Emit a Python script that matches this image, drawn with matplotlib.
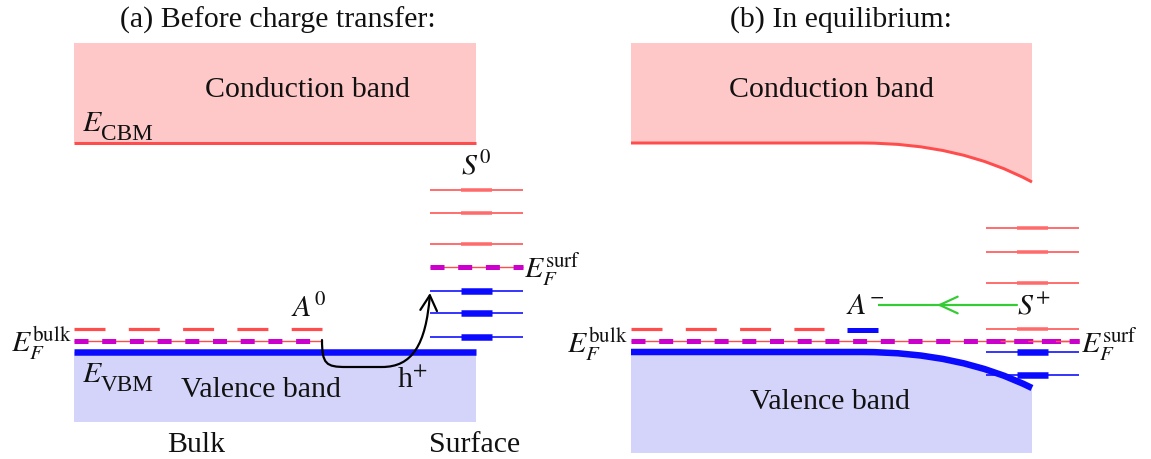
import numpy as np
import matplotlib.pyplot as plt
from matplotlib.patches import Rectangle, PathPatch, FancyArrowPatch
from matplotlib.path import Path

plt.rcParams['font.family'] = ['Liberation Serif', 'DejaVu Serif']
plt.rcParams['mathtext.fontset'] = 'stix'
plt.rcParams['lines.scale_dashes'] = False

PX = 0.72   # points per pixel at dpi 100
FS = 21.5

red = '#ff4d4d'
red_lt = '#ff6a6a'
pink = '#ffc8c8'
blue = '#0a0aff'
lav = '#d4d4fa'
mag = '#cc00cc'
green = '#33cc33'
ink = '#111111'

# energy levels, as pixel rows measured from the top of the picture
cbm = 143
vbm = 352
ef_bulk = 341
acc_a = 329            # A0 level / dashed bulk acceptor level
acc_b = 330            # A- level
surf_empty_a = [190, 213, 244]
ef_surf_a = 267
surf_full_a = [291, 313, 337]
surf_empty_b = [228, 252, 283, 329]
ef_surf_b = 341
surf_full_b = [352, 375]
cbm_surf_b = 182       # band edges at the surface after bending
vbm_surf_b = 388
transfer_y = 305       # S+ -> A- electron transfer arrow

# layout of the two panels (pixels)
top = 43
A = dict(x0=74, x1=476, bulk_end=322, s0=430, s1=523, t0=461, t1=492, bot=422)
B = dict(x0=631, x1=1032, bend=862, ctrl=960, bulk_end=824, s0=986, s1=1079,
         t0=1017, t1=1048, bot=453)

fig = plt.figure(figsize=(11.51, 4.59), dpi=100)
ax = fig.add_axes([0, 0, 1, 1])
ax.set_xlim(0, 1151)
ax.set_ylim(459, 0)
ax.axis('off')


def hl(y, x0, x1, **kw):
    ax.plot([x0, x1], [y, y], solid_capstyle='butt', dash_capstyle='butt', **kw)


def fermi(y, x0, x1):
    hl(y, x0, x1, color=red, lw=1.4 * PX)
    hl(y, x0, x1, color=mag, lw=5 * PX, linestyle=(0, (14 * PX, 13.7 * PX)))


def surface_levels(p, empty, full, ef):
    for y in empty:
        hl(y, p['s0'], p['s1'], color=red, lw=1.6 * PX)
        hl(y, p['t0'], p['t1'], color=red_lt, lw=3.5 * PX)
    for y in full:
        hl(y, p['s0'], p['s1'], color=blue, lw=1.6 * PX)
        hl(y, p['t0'], p['t1'], color=blue, lw=6.5 * PX)
    fermi(ef, p['s0'], p['s1'])


def band_edge_label(x, y, sub):
    # E with a larger-than-mathtext upright subscript, as in the original
    ax.text(x, y, r'$E$', fontsize=FS, ha='left', va='baseline', color=ink)
    ax.text(x + 19, y + 9, sub, fontsize=FS * 0.78, ha='left', va='baseline', color=ink)


# ---------------- (a) before charge transfer ----------------
ax.add_patch(Rectangle((A['x0'], top), A['x1'] - A['x0'], cbm - top, color=pink, lw=0))
ax.add_patch(Rectangle((A['x0'], vbm), A['x1'] - A['x0'], A['bot'] - vbm, color=lav, lw=0))
hl(cbm, A['x0'], A['x1'], color=red, lw=3 * PX)
hl(vbm, A['x0'], A['x1'], color=blue, lw=6.5 * PX)

hl(acc_a, A['x0'], A['bulk_end'], color=red, lw=3.2 * PX, linestyle=(0, (31 * PX, 23.3 * PX)))
fermi(ef_bulk, A['x0'], A['bulk_end'])
surface_levels(A, surf_empty_a, surf_full_a, ef_surf_a)

# hole path from A0 to the surface
hp = Path([(322, 340), (322, 364), (326, 367), (346, 367), (382, 367),
           (412, 367), (426, 345), (430, 293)],
          [Path.MOVETO, Path.CURVE4, Path.CURVE4, Path.CURVE4, Path.LINETO,
           Path.CURVE4, Path.CURVE4, Path.CURVE4])
ax.add_patch(FancyArrowPatch(path=hp, arrowstyle='->,head_length=0.55,head_width=0.3',
                             mutation_scale=20, lw=2.2 * PX, color='black', zorder=5))

ax.text(278, 20, '(a) Before charge transfer:', fontsize=FS, ha='center', va='center', color=ink)
ax.text(307, 90, 'Conduction band', fontsize=FS, ha='center', va='center', color=ink)
ax.text(261, 390, 'Valence band', fontsize=FS, ha='center', va='center', color=ink)
ax.text(196, 445, 'Bulk', fontsize=FS, ha='center', va='center', color=ink)
ax.text(475, 445, 'Surface', fontsize=FS, ha='center', va='center', color=ink)
band_edge_label(82, 131, 'CBM')
band_edge_label(82, 382, 'VBM')
ax.text(72, 343, r'$E_F^{\rm bulk}$', fontsize=FS, ha='right', va='center', color=ink)
ax.text(524, 269, r'$E_F^{\rm surf}$', fontsize=FS, ha='left', va='center', color=ink)
ax.text(291, 309, r'$A^0$', fontsize=FS, ha='left', va='center', color=ink)
ax.text(461, 166, r'$S^0$', fontsize=FS, ha='left', va='center', color=ink)
ax.text(397, 381, r'h$^{+}$', fontsize=FS, ha='left', va='center', color=ink)

# ---------------- (b) in equilibrium ----------------
cb_fill = Path([(B['x0'], top), (B['x1'], top), (B['x1'], cbm_surf_b),
                (B['ctrl'], cbm), (B['bend'], cbm), (B['x0'], cbm), (B['x0'], top)],
               [Path.MOVETO, Path.LINETO, Path.LINETO, Path.CURVE3, Path.CURVE3,
                Path.LINETO, Path.CLOSEPOLY])
ax.add_patch(PathPatch(cb_fill, color=pink, lw=0))
cb_edge = Path([(B['x0'], cbm), (B['bend'], cbm), (B['ctrl'], cbm), (B['x1'], cbm_surf_b)],
               [Path.MOVETO, Path.LINETO, Path.CURVE3, Path.CURVE3])
ax.add_patch(PathPatch(cb_edge, fill=False, edgecolor=red, lw=3 * PX, capstyle='butt'))

vb_fill = Path([(B['x0'], vbm), (B['bend'], vbm), (B['ctrl'], vbm), (B['x1'], vbm_surf_b),
                (B['x1'], B['bot']), (B['x0'], B['bot']), (B['x0'], vbm)],
               [Path.MOVETO, Path.LINETO, Path.CURVE3, Path.CURVE3, Path.LINETO,
                Path.LINETO, Path.CLOSEPOLY])
ax.add_patch(PathPatch(vb_fill, color=lav, lw=0))

hl(acc_a, B['x0'], B['bulk_end'], color=red, lw=3.2 * PX, linestyle=(0, (31 * PX, 23.3 * PX)))
hl(acc_b, 847, 878, color=blue, lw=5 * PX)
fermi(ef_bulk, B['x0'], B['s1'])
surface_levels(B, surf_empty_b, surf_full_b, ef_surf_b)

vb_edge = Path([(B['x0'], vbm), (B['bend'], vbm), (B['ctrl'], vbm), (B['x1'], vbm_surf_b)],
               [Path.MOVETO, Path.LINETO, Path.CURVE3, Path.CURVE3])
ax.add_patch(PathPatch(vb_edge, fill=False, edgecolor=blue, lw=6.5 * PX, capstyle='butt'))

# electron transfer S+ -> A-
hl(transfer_y, 878, 940, color=green, lw=2.2 * PX)
ax.add_patch(FancyArrowPatch((1017, transfer_y), (937, transfer_y),
                             arrowstyle='->,head_length=0.65,head_width=0.3',
                             mutation_scale=20, shrinkA=0, shrinkB=0,
                             lw=2.2 * PX, color=green))

ax.text(841, 20, '(b) In equilibrium:', fontsize=FS, ha='center', va='center', color=ink)
ax.text(831, 90, 'Conduction band', fontsize=FS, ha='center', va='center', color=ink)
ax.text(830, 402, 'Valence band', fontsize=FS, ha='center', va='center', color=ink)
ax.text(628, 344, r'$E_F^{\rm bulk}$', fontsize=FS, ha='right', va='center', color=ink)
ax.text(1081, 344, r'$E_F^{\rm surf}$', fontsize=FS, ha='left', va='center', color=ink)
ax.text(846, 307, r'$A^{-}$', fontsize=FS, ha='left', va='center', color=ink)
ax.text(1017, 307, r'$S^{+}$', fontsize=FS, ha='left', va='center', color=ink)

fig.savefig('out.png', dpi=100)
